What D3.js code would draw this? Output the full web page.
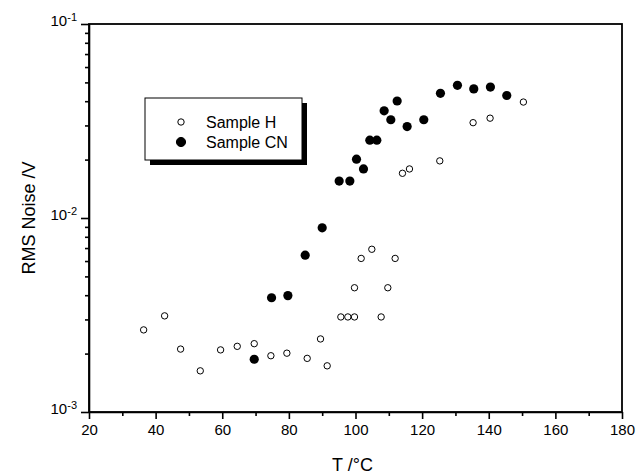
<!DOCTYPE html>
<html>
<head>
<meta charset="utf-8">
<script src="https://cdn.jsdelivr.net/npm/d3@7"></script>
<style>
  body { margin: 0; background: #fff; }
  svg { font-family: Arial, "Liberation Sans", sans-serif; }
  .axis path, .axis line { stroke: #000; stroke-width: 1.6; }
  .axis text { font-size: 15px; fill: #000; }
</style>
</head>
<body>
<svg id="chart"></svg>
<script>
// Sample H (open circles): temperature / RMS noise
const tempH = [36.4, 42.7, 47.5, 53.4, 59.5, 64.5, 69.6, 74.6, 79.4, 85.5, 89.5, 91.5,
               95.6, 97.7, 99.7, 99.7, 101.7, 104.9, 107.7, 109.7, 111.9,
               114.1, 116.2, 125.3, 135.3, 140.4, 150.4];
const noiseH = [2.65e-3, 3.13e-3, 2.11e-3, 1.63e-3, 2.09e-3, 2.18e-3, 2.25e-3, 1.95e-3, 2.01e-3, 1.89e-3, 2.38e-3, 1.73e-3,
                3.09e-3, 3.09e-3, 3.09e-3, 4.37e-3, 6.19e-3, 6.9e-3, 3.09e-3, 4.37e-3, 6.19e-3,
                1.70e-2, 1.79e-2, 1.97e-2, 3.10e-2, 3.27e-2, 3.96e-2];

// Sample CN (filled circles)
const tempCN = [69.6, 74.8, 79.7, 84.9, 90.0, 95.1, 98.3, 100.3, 102.4, 104.3, 106.4,
                108.6, 110.6, 112.5, 115.5, 120.5, 125.5, 130.6, 135.5, 140.5, 145.4];
const noiseCN = [1.87e-3, 3.88e-3, 3.98e-3, 6.43e-3, 8.9e-3, 1.55e-2, 1.55e-2, 2.01e-2, 1.79e-2, 2.52e-2, 2.52e-2,
                 3.57e-2, 3.21e-2, 4.01e-2, 2.96e-2, 3.21e-2, 4.39e-2, 4.83e-2, 4.63e-2, 4.73e-2, 4.28e-2];

const xTicks = [20, 40, 60, 80, 100, 120, 140, 160, 180];
const yTicks = [1e-3, 1e-2, 1e-1];
const yExps = ["-3", "-2", "-1"];
const legendLabels = ["Sample H", "Sample CN"];

const config = {
    containerWidth: 637,
    containerHeight: 476,
    margin: {top: 24, right: 15, bottom: 64, left: 89}
};
const width = config.containerWidth - config.margin.left - config.margin.right;
const height = config.containerHeight - config.margin.top - config.margin.bottom;

const svg = d3.select('#chart')
    .attr('width', config.containerWidth)
    .attr('height', config.containerHeight);

const chart = svg.append('g')
    .attr('transform', `translate(${config.margin.left},${config.margin.top})`);

const xScale = d3.scaleLinear().domain([20, 180]).range([0, width]);
const yScale = d3.scaleLog().domain([1e-3, 1e-1]).range([height, 0]);

// frame
chart.append('rect')
    .attr('width', width).attr('height', height)
    .attr('fill', 'none').attr('stroke', '#000').attr('stroke-width', 1.8);

// x axis: major ticks with labels, minor ticks between
const minorX = d3.range(30, 180, 20);
chart.append('g')
    .attr('class', 'axis')
    .attr('transform', `translate(0,${height})`)
    .call(d3.axisBottom(xScale).tickValues(minorX).tickSize(4).tickFormat(''))
    .call(g => g.select('.domain').remove());

const xAxisG = chart.append('g')
    .attr('class', 'axis')
    .attr('transform', `translate(0,${height})`)
    .call(d3.axisBottom(xScale).tickValues(xTicks).tickSize(7).tickSizeOuter(0).tickPadding(5));

// y axis: decades plus minor log ticks
const minorY = [];
[1e-3, 1e-2].forEach(d => { for (let k = 2; k <= 9; k++) minorY.push(d * k); });
chart.append('g')
    .attr('class', 'axis')
    .call(d3.axisLeft(yScale).tickValues(minorY).tickSize(4).tickFormat(''))
    .call(g => g.select('.domain').remove());

const yAxisG = chart.append('g')
    .attr('class', 'axis')
    .call(d3.axisLeft(yScale).tickValues(yTicks).tickSize(8).tickSizeOuter(0).tickFormat(''));

yAxisG.selectAll('.tick').each(function(d, i) {
    const t = d3.select(this).append('text')
        .attr('x', -12).attr('dy', '0.1em')
        .attr('text-anchor', 'end');
    t.append('tspan').text('10');
    t.append('tspan').attr('dy', '-0.5em').style('font-size', '11px').text(yExps[i]);
});

// axis titles
svg.append('text')
    .attr('x', config.margin.left + width / 2 - 3)
    .attr('y', 471)
    .attr('text-anchor', 'middle')
    .style('font-size', '18px')
    .text('T /°C');

svg.append('text')
    .attr('transform', `translate(35,${config.margin.top + height / 2}) rotate(-90)`)
    .attr('text-anchor', 'middle')
    .style('font-size', '18px')
    .text('RMS Noise /V');

// data
const dataH = tempH.map((t, i) => ({t: t, v: noiseH[i]}));
const dataCN = tempCN.map((t, i) => ({t: t, v: noiseCN[i]}));

chart.selectAll('.pt-cn')
    .data(dataCN)
  .join('circle')
    .attr('class', 'pt-cn')
    .attr('cx', d => xScale(d.t))
    .attr('cy', d => yScale(d.v))
    .attr('r', 4.6)
    .attr('fill', '#000');

chart.selectAll('.pt-h')
    .data(dataH)
  .join('circle')
    .attr('class', 'pt-h')
    .attr('cx', d => xScale(d.t))
    .attr('cy', d => yScale(d.v))
    .attr('r', 3.2)
    .attr('fill', '#fff')
    .attr('stroke', '#000')
    .attr('stroke-width', 1);

// legend with drop shadow
const legend = svg.append('g').attr('transform', 'translate(145,98)');
legend.append('rect')
    .attr('x', 5).attr('y', 5).attr('width', 157).attr('height', 62)
    .attr('fill', '#000');
legend.append('rect')
    .attr('width', 157).attr('height', 62)
    .attr('fill', '#fff').attr('stroke', '#000').attr('stroke-width', 1);

const rows = legend.selectAll('.leg-row')
    .data(legendLabels)
  .join('g')
    .attr('class', 'leg-row')
    .attr('transform', (d, i) => `translate(0,${24 + i * 20})`);
rows.append('circle')
    .attr('cx', 36)
    .attr('r', (d, i) => i === 0 ? 3.2 : 4.6)
    .attr('fill', (d, i) => i === 0 ? '#fff' : '#000')
    .attr('stroke', '#000').attr('stroke-width', 1);
rows.append('text')
    .attr('x', 61).attr('dy', '0.35em')
    .style('font-size', '16px')
    .text(d => d);
</script>
</body>
</html>
